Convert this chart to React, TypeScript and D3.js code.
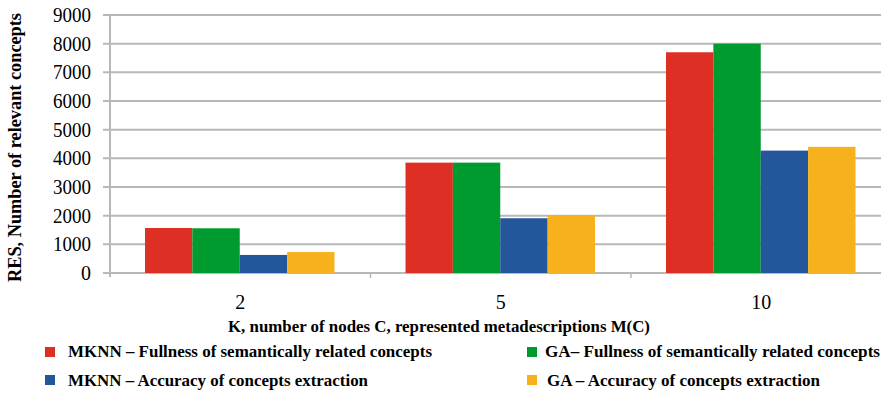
import React from "react";
import * as d3 from "d3";

const categories = ["2", "5", "10"];
const seriesNames = [
  "MKNN – Fullness of semantically related concepts",
  "GA– Fullness of semantically related concepts",
  "MKNN – Accuracy of concepts extraction",
  "GA – Accuracy of concepts extraction",
];
const mknnFullness = [1570, 3850, 7700];
const gaFullness = [1560, 3850, 8000];
const mknnAccuracy = [630, 1910, 4270];
const gaAccuracy = [730, 2020, 4400];
const yTicks = [0, 1000, 2000, 3000, 4000, 5000, 6000, 7000, 8000, 9000];
const colors = ["#dd2f23", "#009b2f", "#23569b", "#f6b11c"];

const seriesValues = [mknnFullness, gaFullness, mknnAccuracy, gaAccuracy];

export default function App() {
  const W = 881;
  const H = 396;
  const x0 = 110;
  const y = d3.scaleLinear().domain([0, 9000]).range([273, 15]);
  const x = d3.scaleBand().domain(categories).range([x0, x0 + 3 * 260.5]).padding(0);
  const bw = x.bandwidth();
  const xs = d3.scaleBand().domain(seriesNames).range([35, bw - 36]).padding(0);
  const ff = { fontFamily: "'Liberation Serif', serif" };

  const legend = [
    { i: 0, sx: 45, sy: 347, tx: 68, ty: 357, len: 364 },
    { i: 1, sx: 527, sy: 347, tx: 545, ty: 357, len: 335 },
    { i: 2, sx: 45, sy: 375, tx: 68, ty: 386, len: 300 },
    { i: 3, sx: 527, sy: 375, tx: 547, ty: 386, len: 273 },
  ];

  return (
    <svg
      width={W}
      height={H}
      style={{ position: "absolute", left: 0, top: 0, background: "#fff" }}
    >
      <rect x={0} y={0} width={W} height={H} fill="#fff" />
      {yTicks.map((t) => (
        <g key={t}>
          <line x1={103} x2={W} y1={y(t)} y2={y(t)} stroke="#b8b8b8" strokeWidth={2} />
          <text
            x={91}
            y={y(t)}
            dy="0.35em"
            textAnchor="end"
            fontSize={20}
            fill="#000"
            style={ff}
            {...(t >= 1000 ? { textLength: 38, lengthAdjust: "spacingAndGlyphs" } : {})}
          >
            {t}
          </text>
        </g>
      ))}
      <line x1={x0} x2={x0} y1={y(9000)} y2={y(0) + 4} stroke="#b8b8b8" strokeWidth={2} />
      {categories.map((c) => (
        <line
          key={"t" + c}
          x1={(x(c) as number) + bw}
          x2={(x(c) as number) + bw}
          y1={y(0)}
          y2={y(0) + 5}
          stroke="#b8b8b8"
          strokeWidth={1.5}
        />
      ))}
      {categories.map((c, ci) =>
        seriesNames.map((s, si) => (
          <rect
            key={c + s}
            x={(x(c) as number) + (xs(s) as number)}
            y={y(seriesValues[si][ci])}
            width={xs.bandwidth()}
            height={y(0) - y(seriesValues[si][ci])}
            fill={colors[si]}
          />
        ))
      )}
      {categories.map((c) => (
        <text
          key={"l" + c}
          x={(x(c) as number) + bw / 2}
          y={309}
          textAnchor="middle"
          fontSize={20}
          fill="#000"
          style={ff}
        >
          {c}
        </text>
      ))}
      <text
        x={228}
        y={332}
        fontSize={17}
        fontWeight="bold"
        textLength={422}
        lengthAdjust="spacingAndGlyphs"
        fill="#000"
        style={ff}
      >
        K, number of nodes C, represented metadescriptions M(C)
      </text>
      <text
        transform="translate(21,282) rotate(-90)"
        x={0}
        y={0}
        fontSize={18}
        fontWeight="bold"
        textLength={269}
        lengthAdjust="spacingAndGlyphs"
        fill="#000"
        style={ff}
      >
        RES, Number of relevant concepts
      </text>
      {legend.map((l) => (
        <g key={"lg" + l.i}>
          <rect x={l.sx} y={l.sy} width={10} height={10} fill={colors[l.i]} />
          <text
            x={l.tx}
            y={l.ty}
            fontSize={16}
            fontWeight="bold"
            textLength={l.len}
            lengthAdjust="spacingAndGlyphs"
            fill="#000"
            style={ff}
          >
            {seriesNames[l.i]}
          </text>
        </g>
      ))}
    </svg>
  );
}
